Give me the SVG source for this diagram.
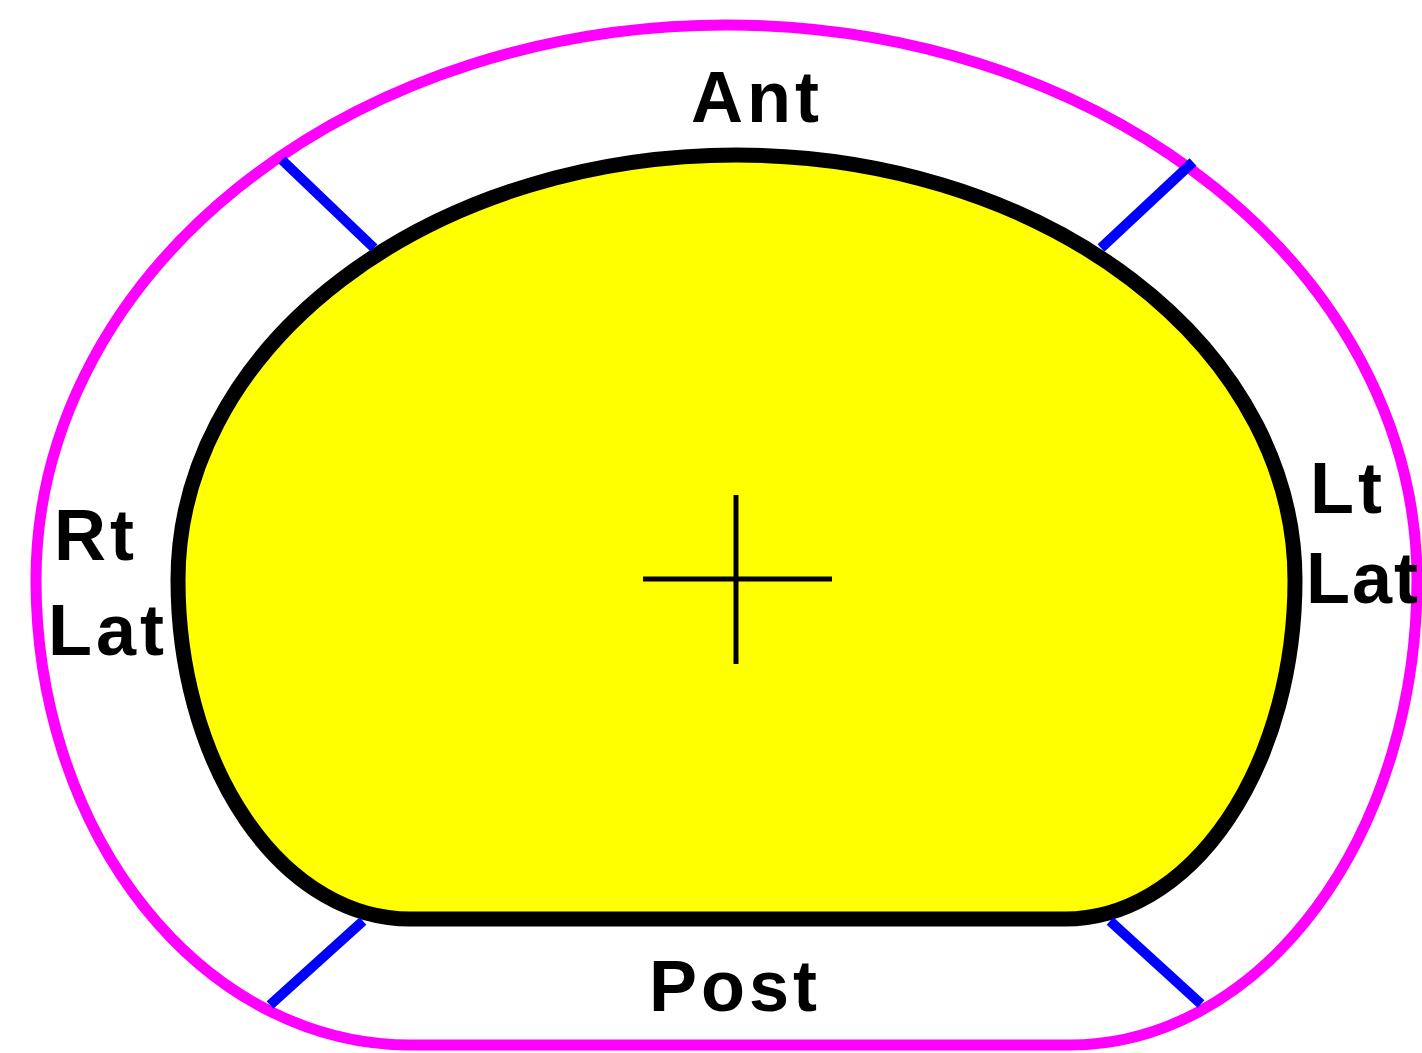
<svg xmlns="http://www.w3.org/2000/svg" width="1422" height="1053" viewBox="0 0 1422 1053">
<style>
.lbl{font-family:"Liberation Sans",Arial,sans-serif;font-weight:bold;font-size:72px;letter-spacing:4px;fill:#000}
.blue{stroke:#0000ff;stroke-width:10;fill:none}
</style>
<rect width="1422" height="1053" fill="#fff"/>
<g id="outer">
<path d="M 36 580 A 690.5 555 0 0 1 1417 580 A 347 465 0 0 1 1070 1045 L 410 1045 A 374 465 0 0 1 36 580 Z" fill="none" stroke="#ff00ff" stroke-width="11"/>
</g>
<g id="inner">
<path d="M 178 580 A 558.5 425 0 0 1 1295 580 A 230 339 0 0 1 1065 919 L 410 919 A 232 339 0 0 1 178 580 Z" fill="#ffff00" stroke="#000" stroke-width="15"/>
</g>
<g id="cross">
<line x1="736" y1="495" x2="736" y2="664" stroke="#000" stroke-width="5"/>
<line x1="643" y1="579" x2="832" y2="579" stroke="#000" stroke-width="5"/>
</g>
<g id="connectors">
<line class="blue" x1="282" y1="160" x2="374" y2="248"/>
<line class="blue" x1="1193" y1="162" x2="1101" y2="248"/>
<line class="blue" x1="363" y1="921" x2="270" y2="1005"/>
<line class="blue" x1="1110" y1="921" x2="1201" y2="1004"/>
</g>
<g id="labels">
<text class="lbl" x="691" y="122">Ant</text>
<text class="lbl" x="649" y="1011">Post</text>
<text class="lbl" x="54" y="560">Rt</text>
<text class="lbl" x="48" y="655">Lat</text>
<text class="lbl" x="1310" y="513">Lt</text>
<text class="lbl" x="1306" y="603" style="letter-spacing:2px">Lat</text>
</g>
</svg>
